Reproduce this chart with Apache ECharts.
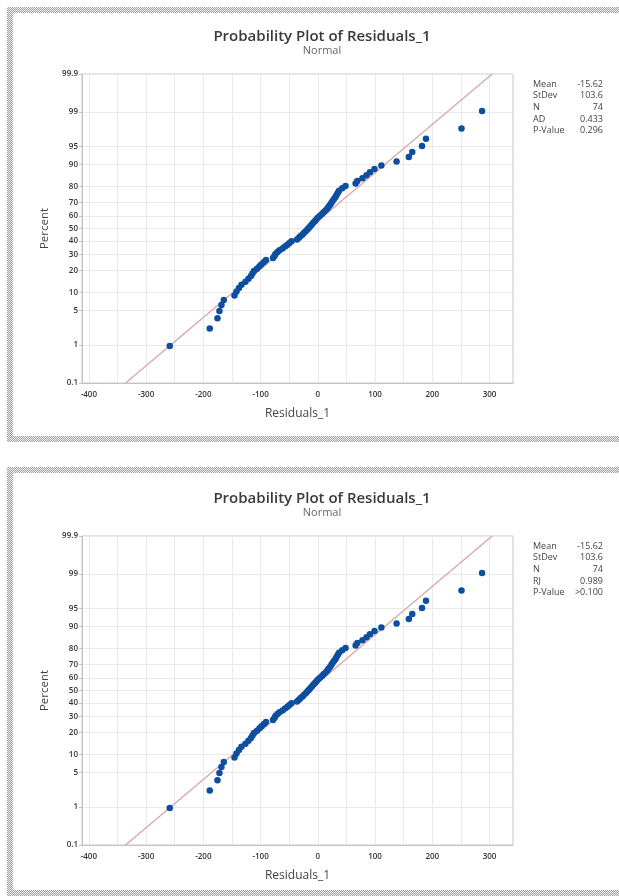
<!DOCTYPE html>
<html><head><meta charset="utf-8">
<script src="https://cdn.jsdelivr.net/npm/echarts@6/dist/echarts.min.js"></script>
<style>
html,body{margin:0;padding:0;background:#fff;width:619px;height:896px;overflow:hidden;}
.hatch{position:absolute;background:repeating-conic-gradient(#a4a4a4 0 25%, #ececec 0 50%) 0 0/2px 2px;}
.inner{position:absolute;background:#fff;}
#chart{position:absolute;left:0;top:0;width:619px;height:896px;}
</style></head><body>
<div class="hatch" style="left:7px;top:7px;width:620px;height:435px"></div>
<div class="inner" style="left:13px;top:13px;width:610px;height:423px"></div>
<div class="hatch" style="left:7px;top:467px;width:620px;height:429px"></div>
<div class="inner" style="left:13px;top:473px;width:610px;height:417px"></div>
<div id="chart"></div>
<script>
// ---- data ----
const residuals = [
  -258.7, -188.8, -175.3, -171.9, -168.4, -164.3,
  -145.6, -142.1, -137.8, -133.4, -126.4, -121.2, -116.8, -114.2, -111.5, -106.3, -101.9, -98.4, -94.1, -90.6,
  -78.3, -75.7, -74.0, -70.5, -67.0, -61.7, -57.3, -53.0, -49.5, -46.0,
  -36.4, -32.9, -30.2, -26.7, -24.1, -20.6, -18.0, -15.4, -12.8, -10.1, -7.5, -4.9, -2.3,
  0.3, 3.8, 7.3, 10.0, 13.5, 16.6, 18.7, 21.3, 23.6, 25.7, 28.3, 30.9, 32.7, 35.0, 37.1, 42.7, 48.4,
  66, 69, 78, 85, 91, 99, 111, 137.6, 159, 165, 182, 189, 251, 287
];
const percents = [
  0.94, 2.28, 3.63, 4.97, 6.32, 7.66, 9.01, 10.35, 11.69, 13.04, 14.38, 15.73, 17.07, 18.41, 19.76,
  21.10, 22.45, 23.79, 25.13, 26.48, 27.82, 29.17, 30.51, 31.85, 33.20, 34.54, 35.89, 37.23, 38.58, 39.92,
  41.26, 42.61, 43.95, 45.30, 46.64, 47.98, 49.33, 50.67, 52.02, 53.36, 54.70, 56.05, 57.39, 58.74, 60.08,
  61.42, 62.77, 64.11, 65.46, 66.80, 68.15, 69.49, 70.83, 72.18, 73.52, 74.87, 76.21, 77.55, 78.90, 80.24,
  81.59, 82.93, 84.27, 85.62, 86.96, 88.31, 89.65, 90.99, 92.34, 93.68, 95.03, 96.37, 97.72, 99.06
];
const percentTicks = [0.1, 1, 5, 10, 20, 30, 40, 50, 60, 70, 80, 90, 95, 99, 99.9];
const xLabelTicks = [-400, -300, -200, -100, 0, 100, 200, 300];
const xGridTicks = [-400, -350, -300, -250, -200, -150, -100, -50, 0, 50, 100, 150, 200, 250, 300];
const fitMean = -15.62;
const fitStDev = 103.6;
const statLabelsA = ['Mean', 'StDev', 'N', 'AD', 'P-Value'];
const statValuesA = ['-15.62', '103.6', '74', '0.433', '0.296'];
const statLabelsB = ['Mean', 'StDev', 'N', 'RJ', 'P-Value'];
const statValuesB = ['-15.62', '103.6', '74', '0.989', '>0.100'];
const titleText = 'Probability Plot of Residuals_1';
const subText = 'Normal';
const xName = 'Residuals_1';
const yName = 'Percent';

// ---- normal probability scale (axis transform) ----
function normInv(p) {
  const a = [-3.969683028665376e+01, 2.209460984245205e+02, -2.759285104469687e+02, 1.383577518672690e+02, -3.066479806614716e+01, 2.506628277459239e+00];
  const b = [-5.447609879822406e+01, 1.615858368580409e+02, -1.556989798598866e+02, 6.680131188771972e+01, -1.328068155288572e+01];
  const c = [-7.784894002430293e-03, -3.223964580411365e-01, -2.400758277161838e+00, -2.549732539343734e+00, 4.374664141464968e+00, 2.938163982698783e+00];
  const d = [7.784695709041462e-03, 3.224671290700398e-01, 2.445134137142996e+00, 3.754408661907416e+00];
  const pl = 0.02425, ph = 1 - pl;
  let q, r;
  if (p < pl) { q = Math.sqrt(-2 * Math.log(p)); return (((((c[0]*q+c[1])*q+c[2])*q+c[3])*q+c[4])*q+c[5]) / ((((d[0]*q+d[1])*q+d[2])*q+d[3])*q+1); }
  if (p <= ph) { q = p - 0.5; r = q*q; return (((((a[0]*r+a[1])*r+a[2])*r+a[3])*r+a[4])*r+a[5])*q / (((((b[0]*r+b[1])*r+b[2])*r+b[3])*r+b[4])*r+1); }
  q = Math.sqrt(-2 * Math.log(1 - p)); return -(((((c[0]*q+c[1])*q+c[2])*q+c[3])*q+c[4])*q+c[5]) / ((((d[0]*q+d[1])*q+d[2])*q+d[3])*q+1);
}
const zOf = pct => normInv(pct / 100);
const zTicks = percentTicks.map(zOf);
const zMin = zOf(0.1), zMax = zOf(99.9);
const labelFor = v => { let best = 0, bd = 1e9; zTicks.forEach((z, i) => { const d = Math.abs(z - v); if (d < bd) { bd = d; best = i; } }); return String(percentTicks[best]); };

const FONT = 'Open Sans';
const gridColor = '#e9e9e9', frameColor = '#c4c4c4', txt = '#333';
const panels = [{ top: 74, off: 0, labels: statLabelsA, values: statValuesA }, { top: 536, off: 462, labels: statLabelsB, values: statValuesB }];

const option = {
  animation: false,
  backgroundColor: 'transparent',
  title: panels.map(p => ({
    text: titleText, subtext: subText, left: 317, top: 24 + p.off, textAlign: 'center', itemGap: 1,
    textStyle: { fontFamily: FONT, fontSize: 15, fontWeight: 600, color: '#3a3a3a' },
    subtextStyle: { fontFamily: FONT, fontSize: 11, color: '#666' }
  })),
  grid: panels.map(p => ({ left: 82, top: p.top, width: 431, height: 309, show: true, borderColor: frameColor, borderWidth: 1, backgroundColor: '#fff', containLabel: false })),
  xAxis: panels.map((p, i) => ({
    type: 'value', gridIndex: i, min: -412, max: 341,
    name: xName, nameLocation: 'middle', nameGap: 25,
    nameTextStyle: { fontFamily: FONT, fontSize: 12, color: '#444' },
    axisLine: { show: true, onZero: false, lineStyle: { color: frameColor } },
    axisTick: { show: true, customValues: xGridTicks, length: 0, lineStyle: { color: frameColor } },
    axisLabel: { customValues: xLabelTicks, fontFamily: FONT, fontSize: 8, fontWeight: 600, color: txt, margin: 8 },
    splitLine: { show: true, lineStyle: { color: gridColor, width: 1 } }
  })),
  yAxis: panels.map((p, i) => ({
    type: 'value', gridIndex: i, min: zMin, max: zMax,
    name: yName, nameLocation: 'middle', nameGap: 27, nameRotate: 90,
    nameTextStyle: { fontFamily: FONT, fontSize: 11.5, color: '#444' },
    axisLine: { show: true, onZero: false, lineStyle: { color: frameColor } },
    axisTick: { show: true, customValues: zTicks, length: 3, lineStyle: { color: frameColor } },
    axisLabel: { customValues: zTicks, formatter: v => labelFor(v), fontFamily: FONT, fontSize: 8, fontWeight: 600, color: txt, margin: 4 },
    splitLine: { show: true, lineStyle: { color: gridColor, width: 1 } }
  })),
  series: [],
  graphic: []
};

panels.forEach((p, i) => {
  option.series.push({
    type: 'line', xAxisIndex: i, yAxisIndex: i, symbol: 'none', silent: true, z: 2,
    lineStyle: { color: '#d9a3a3', width: 1.2 },
    data: [[fitMean + fitStDev * zMin, zMin], [fitMean + fitStDev * zMax, zMax]]
  });
  option.series.push({
    type: 'scatter', xAxisIndex: i, yAxisIndex: i, symbolSize: 6.5, z: 3,
    itemStyle: { color: '#0d4f9e', opacity: 1 },
    data: residuals.map((r, k) => [r, zOf(percents[k])])
  });
  p.labels.forEach((lab, k) => {
    const y = 84 + p.off + k * 11.7;
    option.graphic.push({ type: 'text', x: 533, y: y, style: { text: lab, fill: '#444', font: '9px "' + FONT + '"', textAlign: 'left', textVerticalAlign: 'middle' } });
    option.graphic.push({ type: 'text', x: 603, y: y, style: { text: p.values[k], fill: '#444', font: '9px "' + FONT + '"', textAlign: 'right', textVerticalAlign: 'middle' } });
  });
});

const chart = echarts.init(document.getElementById('chart'), null, { renderer: 'canvas' });
chart.setOption(option);
</script>
</body></html>
